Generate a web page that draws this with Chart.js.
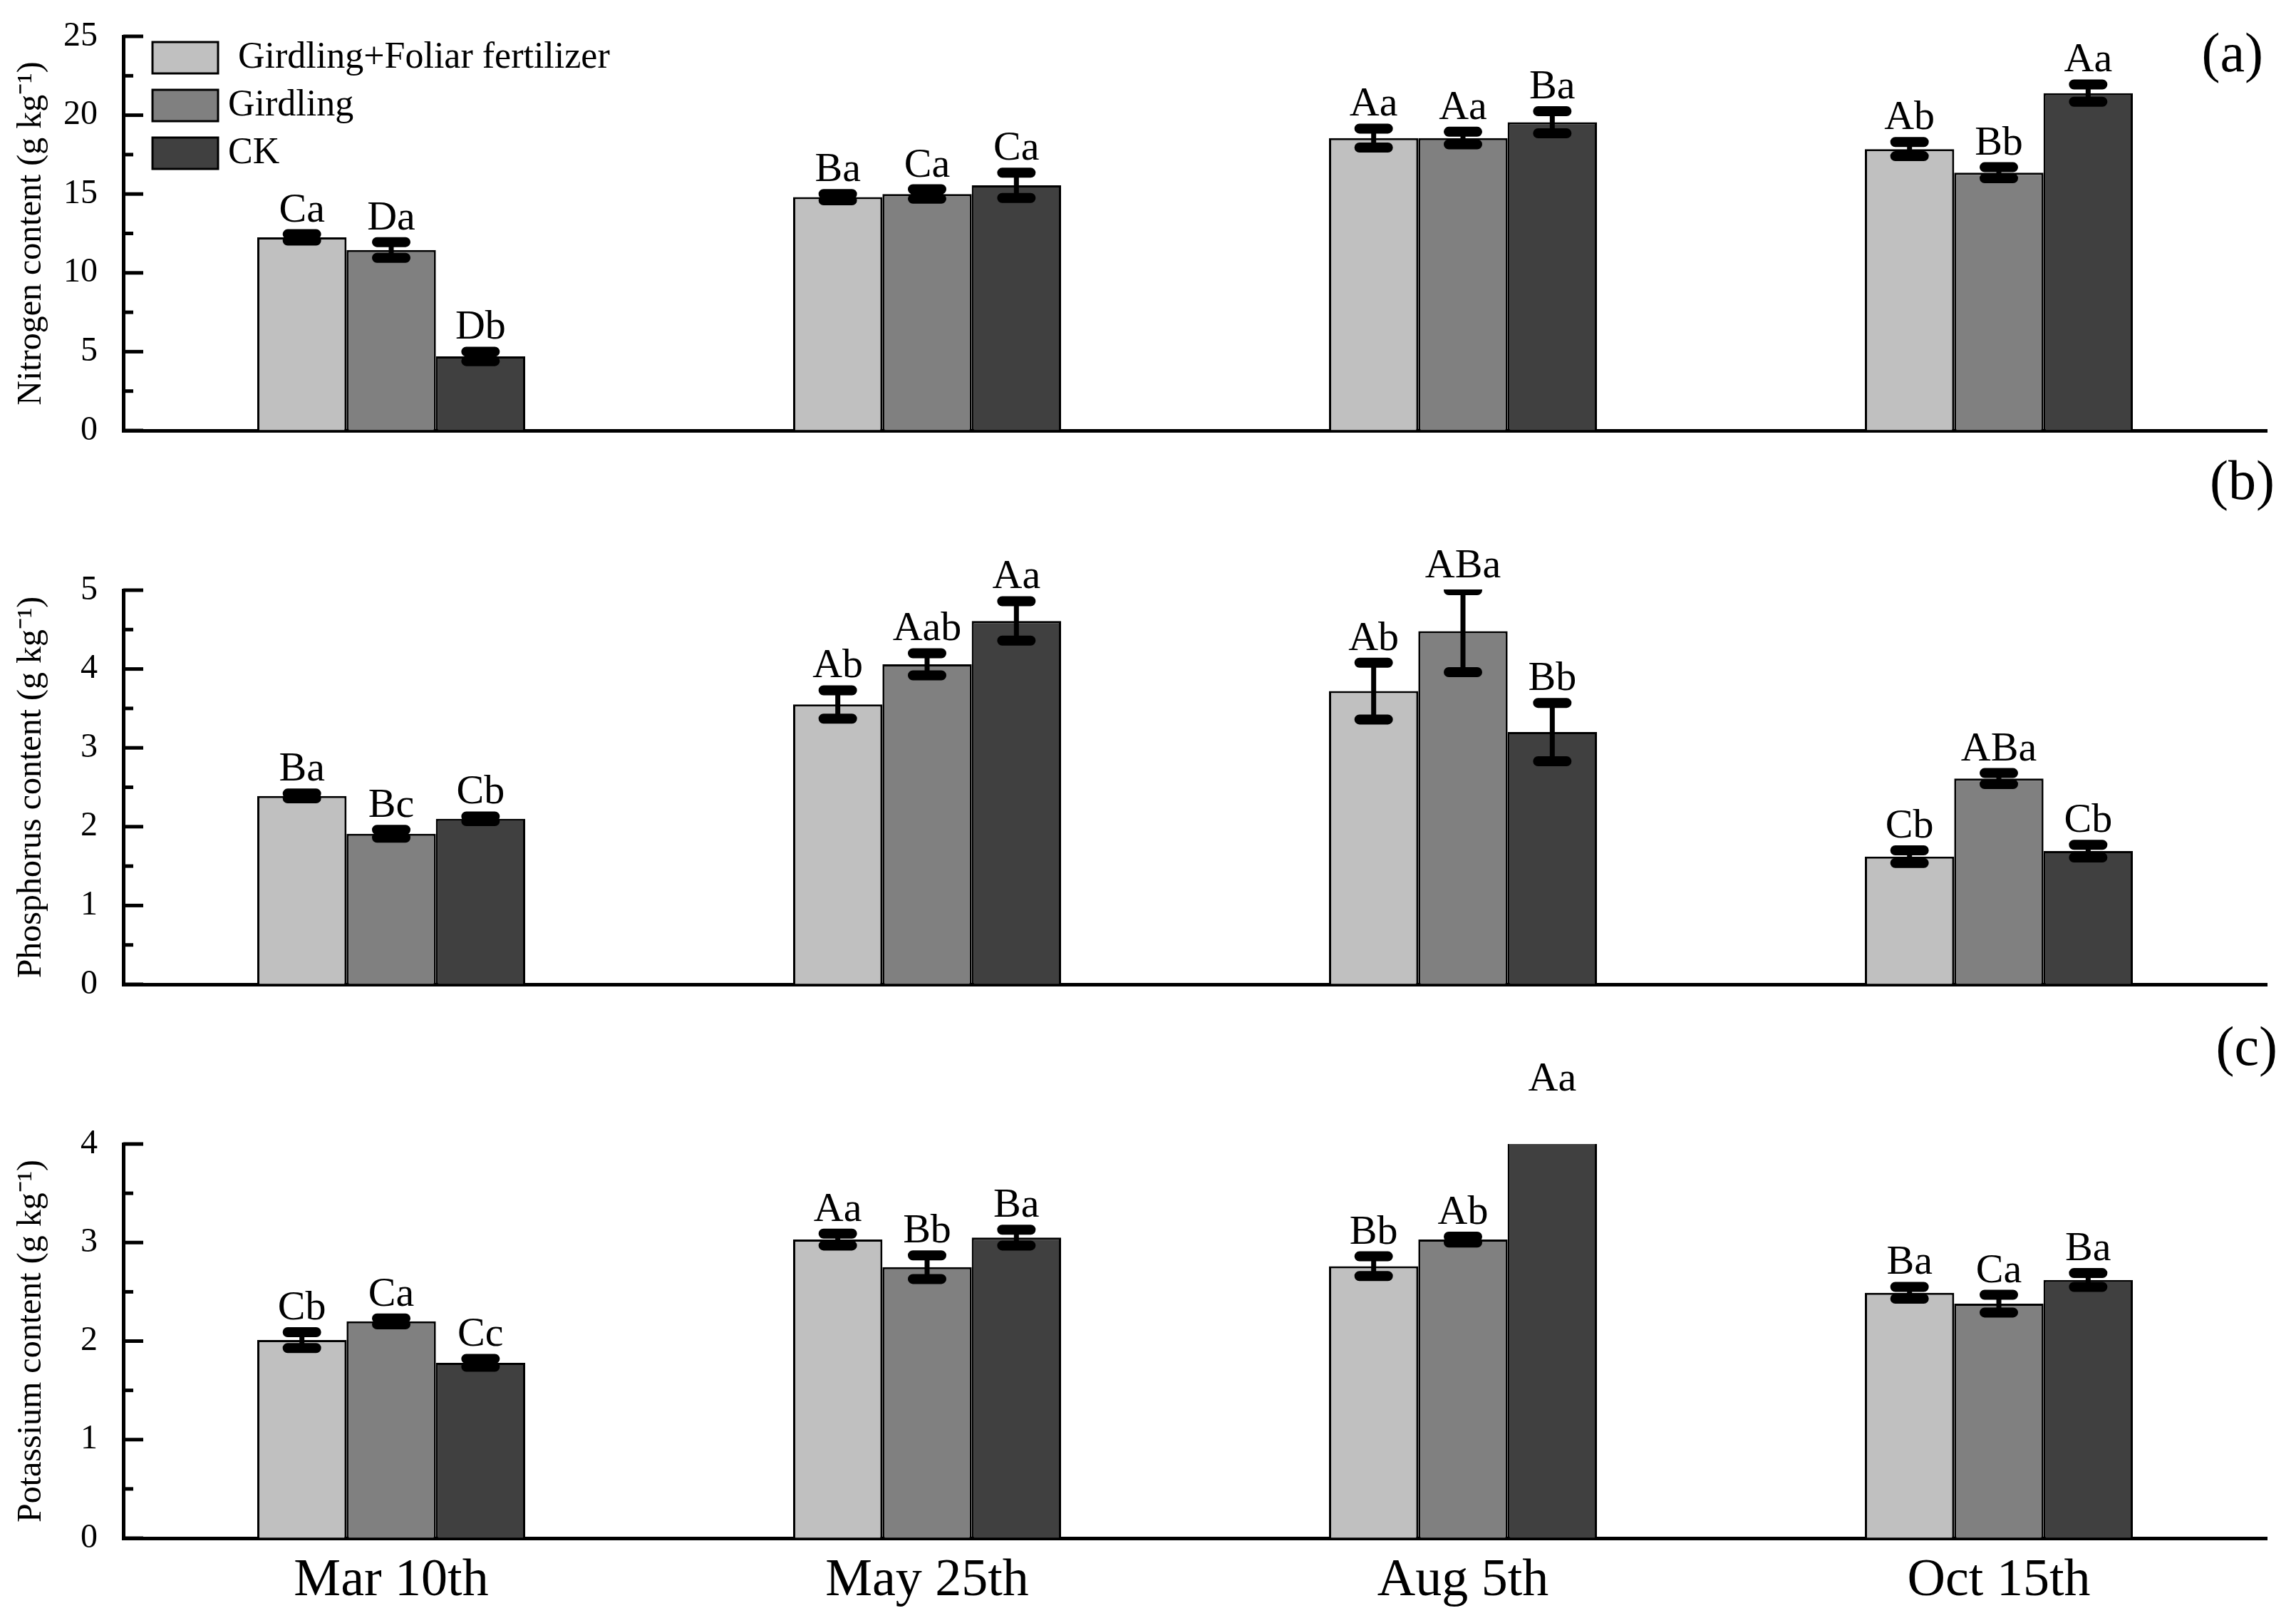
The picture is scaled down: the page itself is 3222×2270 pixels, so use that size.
<!DOCTYPE html>
<html>
<head>
<meta charset="utf-8">
<script src="https://cdn.jsdelivr.net/npm/chart.js@4.4.1/dist/chart.umd.min.js"></script>
<style>
  html, body { margin: 0; padding: 0; background: #fff; }
  #wrap { position: relative; width: 3222px; height: 2270px; }
  .panel { position: absolute; left: 0; width: 3222px; }
</style>
</head>
<body>
<div id="wrap">
  <div class="panel" style="top:0;height:640px"><canvas id="chartN"></canvas></div>
  <div class="panel" style="top:640px;height:800px"><canvas id="chartP"></canvas></div>
  <div class="panel" style="top:1440px;height:830px"><canvas id="chartK"></canvas></div>
</div>
<script>
// DATA
const categories = ['Mar 10th', 'May 25th', 'Aug 5th', 'Oct 15th']
const seriesNames = ['Girdling+Foliar fertilizer', 'Girdling', 'CK']

// nitrogen (g kg-1)
const nitrogenGF = [12.25, 14.8, 18.55, 17.85]
const nitrogenG = [11.45, 15.0, 18.55, 16.35]
const nitrogenCK = [4.7, 15.55, 19.55, 21.4]
const nitrogenGFErr = [0.2, 0.2, 0.6, 0.45]
const nitrogenGErr = [0.5, 0.3, 0.4, 0.35]
const nitrogenCKErr = [0.3, 0.8, 0.7, 0.55]
const nitrogenGFLetters = ['Ca', 'Ba', 'Aa', 'Ab']
const nitrogenGLetters = ['Da', 'Ca', 'Aa', 'Bb']
const nitrogenCKLetters = ['Db', 'Ca', 'Ba', 'Aa']

// phosphorus (g kg-1)
const phosphorusGF = [2.39, 3.55, 3.72, 1.62]
const phosphorusG = [1.91, 4.06, 4.48, 2.61]
const phosphorusCK = [2.10, 4.61, 3.20, 1.69]
const phosphorusGFErr = [0.03, 0.18, 0.36, 0.08]
const phosphorusGErr = [0.05, 0.14, 0.52, 0.07]
const phosphorusCKErr = [0.03, 0.25, 0.37, 0.08]
const phosphorusGFLetters = ['Ba', 'Ab', 'Ab', 'Cb']
const phosphorusGLetters = ['Bc', 'Aab', 'ABa', 'ABa']
const phosphorusCKLetters = ['Cb', 'Aa', 'Bb', 'Cb']

// potassium (g kg-1)
const potassiumGF = [2.01, 3.03, 2.76, 2.49]
const potassiumG = [2.20, 2.75, 3.03, 2.38]
const potassiumCK = [1.78, 3.05, 4.33, 2.62]
const potassiumGFErr = [0.08, 0.06, 0.1, 0.06]
const potassiumGErr = [0.03, 0.12, 0.03, 0.09]
const potassiumCKErr = [0.04, 0.08, 0.08, 0.07]
const potassiumGFLetters = ['Cb', 'Aa', 'Bb', 'Ba']
const potassiumGLetters = ['Ca', 'Bb', 'Ab', 'Ca']
const potassiumCKLetters = ['Cc', 'Ba', 'Aa', 'Ba']

// STYLE
const FONT = '"Liberation Serif", "Times New Roman", serif'
const barColors = ['#c0c0c0', '#808080', '#404040']
const AXIS_W = 5

// error bars, letters, inward ticks, legend, panel tag
const decorPlugin = {
    id: 'decor',
    afterDatasetsDraw(chart, args, opts) {
        const ctx = chart.ctx
        const area = chart.chartArea
        const y = chart.scales.y

        // error bars (clipped to plot area)
        ctx.save()
        ctx.beginPath()
        ctx.rect(area.left, area.top - 1, area.right - area.left, area.bottom - area.top + 2)
        ctx.clip()
        ctx.strokeStyle = '#000'
        ctx.lineCap = 'round'
        chart.data.datasets.forEach((ds, i) => {
            chart.getDatasetMeta(i).data.forEach((bar, j) => {
                const v = ds.data[j], e = ds.errors[j]
                const yt = y.getPixelForValue(v + e)
                const yb = y.getPixelForValue(v - e)
                ctx.lineWidth = 7
                ctx.beginPath()
                ctx.moveTo(bar.x, yt)
                ctx.lineTo(bar.x, yb)
                ctx.stroke()
                ctx.lineWidth = 14
                ctx.beginPath()
                ctx.moveTo(bar.x - 20, yt)
                ctx.lineTo(bar.x + 20, yt)
                ctx.moveTo(bar.x - 20, yb)
                ctx.lineTo(bar.x + 20, yb)
                ctx.stroke()
            })
        })
        ctx.restore()

        // significance letters
        ctx.save()
        ctx.fillStyle = '#000'
        ctx.font = '58px ' + FONT
        ctx.textAlign = 'center'
        ctx.textBaseline = 'alphabetic'
        chart.data.datasets.forEach((ds, i) => {
            chart.getDatasetMeta(i).data.forEach((bar, j) => {
                const yt = y.getPixelForValue(ds.data[j] + ds.errors[j])
                ctx.fillText(ds.letters[j], bar.x, yt - 18)
            })
        })
        ctx.restore()
    },
    afterDraw(chart, args, opts) {
        const ctx = chart.ctx
        const area = chart.chartArea
        const y = chart.scales.y

        // inward ticks on y axis
        ctx.save()
        ctx.strokeStyle = '#000'
        ctx.lineWidth = AXIS_W
        const step = opts.step / 2
        for (let k = 0; k * step <= y.max + 1e-9; k++) {
            const py = y.getPixelForValue(k * step)
            const len = k % 2 === 0 ? 28 : 14
            ctx.beginPath()
            ctx.moveTo(area.left, py)
            ctx.lineTo(area.left + len, py)
            ctx.stroke()
        }
        ctx.restore()

        // panel tag
        ctx.save()
        ctx.fillStyle = '#000'
        ctx.font = '78px ' + FONT
        ctx.textAlign = 'right'
        ctx.textBaseline = 'middle'
        ctx.fillText(opts.tag, opts.tagX, opts.tagY)
        ctx.restore()

        // legend
        if (opts.legend) {
            ctx.save()
            ctx.font = '52px ' + FONT
            ctx.textBaseline = 'middle'
            ctx.textAlign = 'left'
            chart.data.datasets.forEach((ds, i) => {
                const top = 59 + i * 67
                ctx.fillStyle = ds.backgroundColor
                ctx.fillRect(214, top, 92, 44)
                ctx.strokeStyle = '#000'
                ctx.lineWidth = 3
                ctx.strokeRect(214, top, 92, 44)
                ctx.fillStyle = '#000'
                ctx.fillText(ds.label, i === 0 ? 334 : 320, top + 22)
            })
            ctx.restore()
        }
    }
}

function makeDatasets(values, errors, letters) {
    return seriesNames.map((name, i) => ({
        label: name,
        data: values[i],
        errors: errors[i],
        letters: letters[i],
        backgroundColor: barColors[i],
        borderColor: '#000',
        borderWidth: 3,
        categoryPercentage: 0.5,
        barPercentage: 1.0
    }))
}

function makeChart(id, cfg) {
    return new Chart(document.getElementById(id).getContext('2d'), {
        type: 'bar',
        data: {
            labels: categories,
            datasets: makeDatasets(cfg.values, cfg.errors, cfg.letters)
        },
        plugins: [decorPlugin],
        options: {
            responsive: true,
            maintainAspectRatio: false,
            animation: false,
            layout: { padding: { top: cfg.padTop, bottom: cfg.padBottom, left: 0, right: 41 } },
            plugins: {
                legend: { display: false },
                tooltip: { enabled: false },
                decor: { step: cfg.step, tag: cfg.tag, tagX: cfg.tagX, tagY: cfg.tagY, legend: cfg.legend }
            },
            scales: {
                x: {
                    grid: { display: true, drawOnChartArea: false, drawTicks: false },
                    border: { display: true, color: '#000', width: AXIS_W },
                    ticks: {
                        display: cfg.showX,
                        color: '#000',
                        padding: 16,
                        font: { family: FONT, size: 74 }
                    },
                    afterFit(scale) { scale.height = cfg.xHeight }
                },
                y: {
                    min: 0,
                    max: cfg.max,
                    // invisible outer tick used only as the gap between labels and axis
                    grid: { display: true, drawOnChartArea: false, drawTicks: true, tickLength: 36, tickColor: 'rgba(0,0,0,0)' },
                    border: { display: true, color: '#000', width: AXIS_W },
                    ticks: {
                        stepSize: cfg.step,
                        color: '#000',
                        padding: 0,
                        font: { family: FONT, size: 48 }
                    },
                    title: {
                        display: true,
                        text: cfg.title,
                        color: '#000',
                        padding: { top: 16, bottom: 0 },
                        font: { family: FONT, size: 48 }
                    },
                    afterFit(scale) { scale.width = 173 }
                }
            }
        }
    })
}

makeChart('chartN', {
    values: [nitrogenGF, nitrogenG, nitrogenCK],
    errors: [nitrogenGFErr, nitrogenGErr, nitrogenCKErr],
    letters: [nitrogenGFLetters, nitrogenGLetters, nitrogenCKLetters],
    max: 25, step: 5,
    title: 'Nitrogen content (g kg\u207B\u00B9)',
    padTop: 51, padBottom: 26, xHeight: 10, showX: false,
    tag: '(a)', tagX: 3176, tagY: 80, legend: true
})

makeChart('chartP', {
    values: [phosphorusGF, phosphorusG, phosphorusCK],
    errors: [phosphorusGFErr, phosphorusGErr, phosphorusCKErr],
    letters: [phosphorusGFLetters, phosphorusGLetters, phosphorusCKLetters],
    max: 5, step: 1,
    title: 'Phosphorus content (g kg\u207B\u00B9)',
    padTop: 188, padBottom: 49, xHeight: 10, showX: false,
    tag: '(b)', tagX: 3192, tagY: 40, legend: false
})

makeChart('chartK', {
    values: [potassiumGF, potassiumG, potassiumCK],
    errors: [potassiumGFErr, potassiumGErr, potassiumCKErr],
    letters: [potassiumGFLetters, potassiumGLetters, potassiumCKLetters],
    max: 4, step: 1,
    title: 'Potassium content (g kg\u207B\u00B9)',
    padTop: 165, padBottom: 0, xHeight: 112, showX: true,
    tag: '(c)', tagX: 3196, tagY: 34, legend: false
})
</script>
</body>
</html>
